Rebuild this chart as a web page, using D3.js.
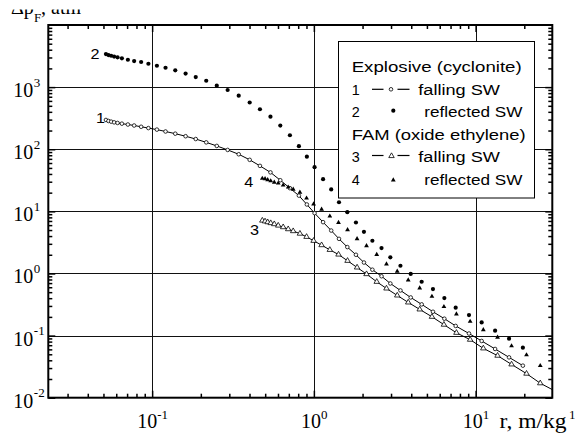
<!DOCTYPE html>
<html><head><meta charset="utf-8">
<script src="https://cdn.jsdelivr.net/npm/d3@7"></script>
<style>html,body{margin:0;padding:0;background:#fff;overflow:hidden}</style>
</head><body><svg id="c" width="575" height="434"></svg>
<script>
// ---- data ----
const rExplosive = [0.0518, 0.0537, 0.0558, 0.0582, 0.0611, 0.0650, 0.0708, 0.0774, 0.0855, 0.0948,
  0.107, 0.121, 0.139, 0.161, 0.186, 0.216, 0.251, 0.293, 0.343, 0.401,
  0.464, 0.539, 0.620, 0.711, 0.808, 0.905, 1.01, 1.14, 1.28, 1.43,
  1.61, 1.82, 2.04, 2.30, 2.62, 2.97, 3.43, 3.97, 4.64, 5.45,
  6.41, 7.53, 9.10, 10.9, 13.2, 16.1, 19.6];
const pExplosiveFalling = [296, 285, 278, 271, 265, 258, 250, 241, 230, 219,
  207, 193, 178, 162, 146, 129, 113, 97.5, 83, 67.5,
  54, 42.4, 31.7, 23.6, 17.9, 12.9, 9.36, 6.70, 4.91, 3.61,
  2.66, 2.00, 1.50, 1.15, 0.902, 0.690, 0.533, 0.411, 0.318, 0.242,
  0.187, 0.143, 0.108, 0.0819, 0.0609, 0.0446, 0.0328];
const pExplosiveReflected = [3405, 3280, 3200, 3105, 3015, 2905, 2760, 2630, 2535, 2378,
  2208, 2050, 1862, 1655, 1453, 1267, 1054, 898, 727, 565,
  440, 334, 240, 168, 112, 76.0, 51.4, 33, 22.5, 14,
  9.7, 6.61, 4.68, 3.36, 2.56, 1.82, 1.33, 0.982, 0.736, 0.561,
  0.402, 0.281, 0.214, 0.163, 0.120, 0.0891, 0.0639];
const rFam = [0.480, 0.499, 0.518, 0.541, 0.569, 0.602, 0.646, 0.694, 0.745, 0.820,
  0.901, 0.996, 1.116, 1.255, 1.420, 1.615, 1.850, 2.116, 2.447, 2.811,
  3.277, 3.831, 4.512, 5.37, 6.37, 7.61, 9.25, 11.16, 13.67, 16.68,
  20.64, 25.1];
const pFamFalling = [7.11, 6.91, 6.70, 6.48, 6.23, 5.91, 5.57, 5.17, 4.81, 4.38,
  3.89, 3.36, 2.86, 2.40, 2.02, 1.60, 1.25, 0.978, 0.735, 0.574,
  0.443, 0.342, 0.264, 0.201, 0.150, 0.111, 0.0859, 0.0623, 0.0475, 0.0344,
  0.0244, 0.0171];
const pFamReflected = [33.9, 33.3, 32.1, 30.9, 29.4, 28.4, 26.4, 24.5, 22.6, 20.2,
  16.3, 13.1, 10.8, 8.37, 6.61, 5.04, 3.61, 2.79, 2.02, 1.42,
  1.08, 0.783, 0.582, 0.427, 0.292, 0.222, 0.169, 0.124, 0.0935, 0.0680,
  0.0488, 0.0328];
const famFallingTailR = [29.8];
const famFallingTailP = [0.0135];

const xTickValues = [0.1, 1, 10];
const xTickExponents = ["-1", "0", "1"];
const yTickValues = [0.01, 0.1, 1, 10, 100, 1000];
const yTickExponents = ["-2", "-1", "0", "1", "2", "3"];

const legendGroups = ["Explosive (cyclonite)", "FAM (oxide ethylene)"];
const legendNumbers = ["1", "2", "3", "4"];
const legendLabels = ["falling SW", "reflected SW", "falling SW", "reflected SW"];
const curveLabels = ["1", "2", "3", "4"];

// ---- setup ----
const svg = d3.select("#c");
const L = 48.3, R = 552.3, T = 25, B = 397.7;
const x = d3.scaleLog().domain([0.0228, 29.8]).range([L, R]);
const y = d3.scaleLog().domain([0.01, 10000]).range([B, T]);
const SANS = "'Liberation Sans', Arial, sans-serif";
const SERIF = "'Liberation Serif', 'Times New Roman', serif";

const defs = svg.append("defs");
defs.append("clipPath").attr("id", "plotclip").append("rect")
  .attr("x", L).attr("y", T).attr("width", R - L).attr("height", B - T);
defs.append("clipPath").attr("id", "titleclip").append("rect")
  .attr("x", 0).attr("y", 9.5).attr("width", 200).attr("height", 20);

// gridlines
const grid = svg.append("g").attr("stroke", "#111").attr("stroke-width", 1);
grid.selectAll(".gx").data(xTickValues).join("line")
  .attr("x1", d => Math.round(x(d)) + 0.5).attr("x2", d => Math.round(x(d)) + 0.5)
  .attr("y1", T).attr("y2", B);
grid.selectAll(".gy").data(yTickValues.concat([10000]).filter(v => v > 0.01 && v < 10000)).join("line")
  .attr("y1", d => Math.round(y(d)) + 0.5).attr("y2", d => Math.round(y(d)) + 0.5)
  .attr("x1", L).attr("x2", R);

// ticks via d3 axes (inside)
function addAxis(axisFn, scale, tx, ty, vals, size, width) {
  const g = svg.append("g").attr("transform", `translate(${tx},${ty})`)
    .call(axisFn(scale).tickValues(vals).tickSize(size).tickFormat(""));
  g.select(".domain").remove();
  g.selectAll(".tick line").attr("stroke", "#000").attr("stroke-width", width);
}
const xMinor = x.ticks().filter(v => xTickValues.indexOf(v) < 0);
const yMinor = y.ticks().filter(v => yTickValues.indexOf(v) < 0 && v !== 10000);
addAxis(d3.axisBottom, x, 0, B, xMinor, -4, 1.5);
addAxis(d3.axisTop, x, 0, T, xMinor, -4, 1.5);
addAxis(d3.axisBottom, x, 0, B, xTickValues, -7, 1.5);
addAxis(d3.axisTop, x, 0, T, xTickValues, -7, 1.5);
addAxis(d3.axisLeft, y, L, 0, yMinor, -4, 1.5);
addAxis(d3.axisRight, y, R, 0, yMinor, -4, 1.5);
addAxis(d3.axisLeft, y, L, 0, yTickValues, -7, 1.5);
addAxis(d3.axisRight, y, R, 0, yTickValues, -7, 1.5);

// data series
const s1 = rExplosive.map((r, i) => ({ r, p: pExplosiveFalling[i] }));
const s2 = rExplosive.map((r, i) => ({ r, p: pExplosiveReflected[i] }));
const s3 = rFam.map((r, i) => ({ r, p: pFamFalling[i] }));
const s4 = rFam.map((r, i) => ({ r, p: pFamReflected[i] }));
const s3line = s3.concat(famFallingTailR.map((r, i) => ({ r, p: famFallingTailP[i] })));

const plot = svg.append("g").attr("clip-path", "url(#plotclip)");
const line = d3.line().x(d => x(d.r)).y(d => y(d.p));
plot.append("path").datum(s1).attr("d", line).attr("fill", "none").attr("stroke", "#000").attr("stroke-width", 1);
plot.append("path").datum(s3line).attr("d", line).attr("fill", "none").attr("stroke", "#000").attr("stroke-width", 1);

plot.selectAll(".c1").data(s1).join("circle")
  .attr("cx", d => x(d.r)).attr("cy", d => y(d.p)).attr("r", 1.8)
  .attr("fill", "#fff").attr("stroke", "#000").attr("stroke-width", 0.8);
plot.selectAll(".c2").data(s2).join("circle")
  .attr("cx", d => x(d.r)).attr("cy", d => y(d.p)).attr("r", 2.1).attr("fill", "#000");
const triOpen = d3.symbol().type(d3.symbolTriangle).size(13);
const triFill = d3.symbol().type(d3.symbolTriangle).size(10);
plot.selectAll(".c3").data(s3).join("path")
  .attr("transform", d => `translate(${x(d.r)},${y(d.p)})`).attr("d", triOpen)
  .attr("fill", "#fff").attr("stroke", "#000").attr("stroke-width", 0.8);
plot.selectAll(".c4").data(s4).join("path")
  .attr("transform", d => `translate(${x(d.r)},${y(d.p)})`).attr("d", triFill)
  .attr("fill", "#000");

// frame
svg.append("rect").attr("x", L).attr("y", T).attr("width", R - L).attr("height", B - T)
  .attr("fill", "none").attr("stroke", "#000").attr("stroke-width", 2);

// curve labels
function sText(str, x0, y0, w, size) {
  const t = svg.append("text").attr("x", x0).attr("y", y0).text(str)
    .attr("font-family", SANS).attr("font-size", size || 14).attr("fill", "#000");
  if (w) t.attr("textLength", w).attr("lengthAdjust", "spacingAndGlyphs");
  return t;
}
const curveLabelPos = [[96, 123.3], [90.5, 59.3], [250, 235], [244.3, 187.3]];
curveLabels.forEach((c, i) => sText(c, curveLabelPos[i][0], curveLabelPos[i][1], 9, 15));

// legend
const lg = svg.append("g");
lg.append("rect").attr("x", 338.5).attr("y", 41.5).attr("width", 196).attr("height", 156.5)
  .attr("fill", "#fff").attr("stroke", "#000").attr("stroke-width", 1);
sText(legendGroups[0], 351.7, 71.7, 170);
sText(legendGroups[1], 351.7, 140, 174);
const rowBase = [95, 116.5, 162, 185];
const labelX = [418.3, 424.3, 418.3, 424.3];
const labelW = [81.7, 98, 81.7, 98];
legendNumbers.forEach((n, i) => {
  sText(n, 351.7, rowBase[i], 8);
  sText(legendLabels[i], labelX[i], rowBase[i], labelW[i]);
});
// legend symbols
[[89.3, 0], [155.5, 2]].forEach(([yy, k]) => {
  lg.append("line").attr("x1", 372).attr("x2", 383.5).attr("y1", yy).attr("y2", yy).attr("stroke", "#000").attr("stroke-width", 1.2);
  lg.append("line").attr("x1", 397.5).attr("x2", 409.5).attr("y1", yy).attr("y2", yy).attr("stroke", "#000").attr("stroke-width", 1.2);
});
lg.append("circle").attr("cx", 391).attr("cy", 89.3).attr("r", 1.8).attr("fill", "#fff").attr("stroke", "#000").attr("stroke-width", 0.8);
lg.append("circle").attr("cx", 393.3).attr("cy", 110.7).attr("r", 2.1).attr("fill", "#000");
lg.append("path").attr("transform", "translate(391.5,156)").attr("d", triOpen).attr("fill", "#fff").attr("stroke", "#000").attr("stroke-width", 0.8);
lg.append("path").attr("transform", "translate(393.3,180)").attr("d", triFill).attr("fill", "#000");

// y tick labels
yTickValues.forEach((v, i) => {
  const yy = y(v);
  svg.append("text").attr("x", 33.3).attr("y", yy + 10).attr("text-anchor", "end")
    .attr("font-family", SERIF).attr("font-size", 20).text("10");
  svg.append("text").attr("x", 33.8).attr("y", yy - 0.5)
    .attr("font-family", SERIF).attr("font-size", 13).text(yTickExponents[i]);
});
// x tick labels
xTickValues.forEach((v, i) => {
  const t = svg.append("text").attr("x", x(v) + 0.5).attr("y", 428.3).attr("text-anchor", "middle")
    .attr("font-family", SERIF).attr("font-size", 20);
  t.append("tspan").text("10");
  t.append("tspan").attr("font-size", 13).attr("dy", -9.5).text(xTickExponents[i]);
});

// axis titles
svg.append("text").attr("x", 499.5).attr("y", 428.3).attr("font-family", SERIF).attr("font-size", 20)
  .attr("textLength", 67).attr("lengthAdjust", "spacingAndGlyphs").text("r, m/kg");
svg.append("text").attr("x", 569).attr("y", 419).attr("font-family", SERIF).attr("font-size", 13).text("1/3");

const yt = svg.append("text").attr("x", 11).attr("y", 13.5).attr("font-family", SERIF)
  .attr("font-size", 20).attr("clip-path", "url(#titleclip)");
yt.append("tspan").text("Δp");
yt.append("tspan").attr("font-size", 13).attr("dy", 8).text("F");
yt.append("tspan").attr("dy", -8).text(", atm");
</script></body></html>
